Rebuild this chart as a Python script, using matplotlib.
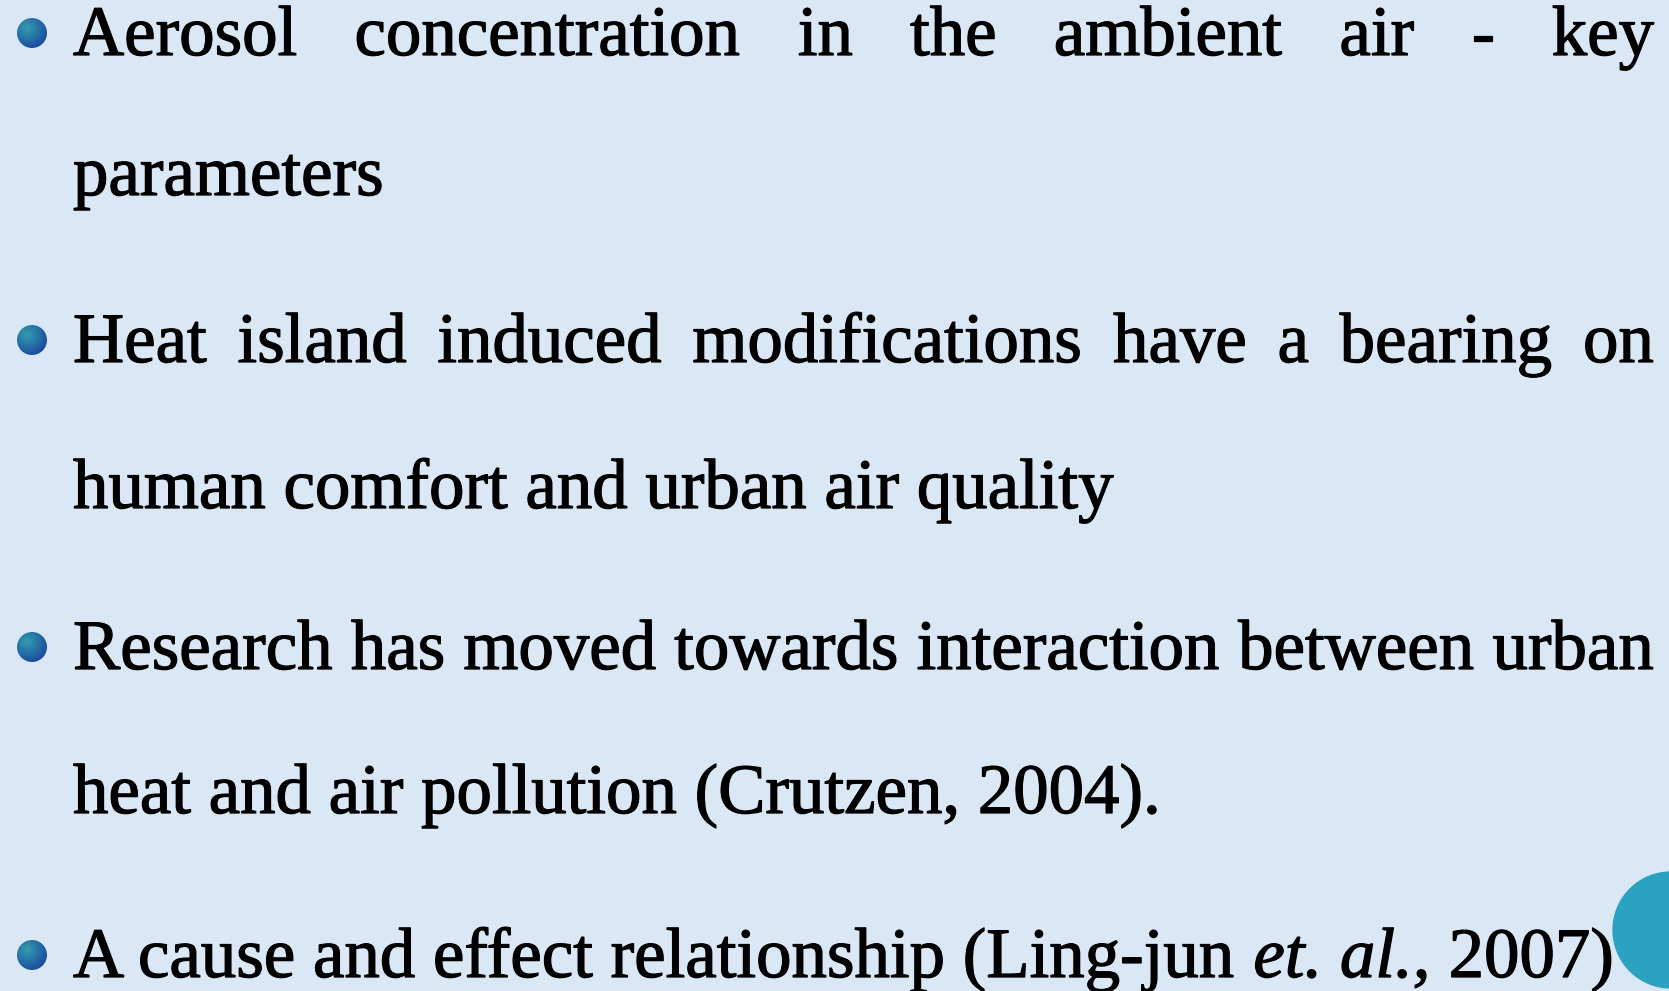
import numpy as np
import matplotlib
matplotlib.use("Agg")
import matplotlib.pyplot as plt
from matplotlib.patches import Circle
import matplotlib.patheffects as pe

# ---- content ----
bullet_lines = [
    # (text, justified?)
    ("Aerosol concentration in the ambient air - key", True),
    ("parameters", False),
    ("Heat island induced modifications have a bearing on", True),
    ("human comfort and urban air quality", False),
    ("Research has moved towards interaction between urban", True),
    ("heat and air pollution (Crutzen, 2004).", False),
]
last_parts = [("A cause and effect relationship (Ling-jun ", "normal"),
              ("et. al.,", "italic"),
              (" 2007)", "normal")]
baselines = [55, 195, 362, 508, 669, 813, 977]
bullet_rows = [0, 2, 4, 6]

W, H = 1669, 991
DPI = 100
FONT = "Liberation Serif"
FS = 51
X_LEFT, X_RIGHT = 73, 1654
EFF = [pe.withStroke(linewidth=0.9, foreground="black")]

fig = plt.figure(figsize=(W / DPI, H / DPI), dpi=DPI)
fig.patch.set_facecolor("#dae8f6")
ax = fig.add_axes([0, 0, 1, 1])
ax.set_xlim(0, W)
ax.set_ylim(H, 0)
ax.axis("off")

renderer = fig.canvas.get_renderer()


def width_of(s, style="normal"):
    t = ax.text(0, 0, s, fontsize=FS, family=FONT, style=style)
    w = t.get_window_extent(renderer).width
    t.remove()
    return w


def put(x, y, s, style="normal"):
    ax.text(x, y, s, fontsize=FS, family=FONT, style=style, color="black",
            va="baseline", ha="left", path_effects=EFF)


space_w = width_of("a a") - width_of("aa")

for i, (line, justified) in enumerate(bullet_lines):
    y = baselines[i]
    if justified:
        words = line.split(" ")
        widths = [width_of(w) for w in words]
        gap = (X_RIGHT - X_LEFT - sum(widths)) / (len(words) - 1)
        x = X_LEFT
        for w, wd in zip(words, widths):
            put(x, y, w)
            x += wd + gap
    else:
        put(X_LEFT, y, line)

# last line with italic segment
x = X_LEFT
y = baselines[6]
for seg, style in last_parts:
    lead = len(seg) - len(seg.lstrip(" "))
    trail = len(seg) - len(seg.rstrip(" "))
    core = seg.strip(" ")
    x += lead * space_w
    put(x, y, core, style)
    x += width_of(core, style) + trail * space_w

# bullets: shaded spheres
R = 15
yy, xx = np.mgrid[-1:1:64j, -1:1:64j]
shade = np.clip(1 - np.hypot(xx + 0.35, yy + 0.35) / 1.6, 0, 1)
c_dark = np.array([0.10, 0.25, 0.62])
c_light = np.array([0.20, 0.62, 0.68])
img = c_dark[None, None, :] * (1 - shade[..., None]) + c_light[None, None, :] * shade[..., None]
for r in bullet_rows:
    cx, cy = 32, baselines[r] - 22
    im = ax.imshow(img, extent=(cx - R, cx + R, cy + R, cy - R), zorder=3,
                   interpolation="bilinear")
    clip = Circle((cx, cy), R, transform=ax.transData)
    im.set_clip_path(clip)
ax.set_xlim(0, W)
ax.set_ylim(H, 0)
ax.set_aspect("auto")

# decorative teal circle bottom right
ax.add_patch(Circle((1671, 930), 58, color="#2ba3c0", zorder=2))

fig.savefig("out.png", dpi=DPI, facecolor=fig.get_facecolor())
